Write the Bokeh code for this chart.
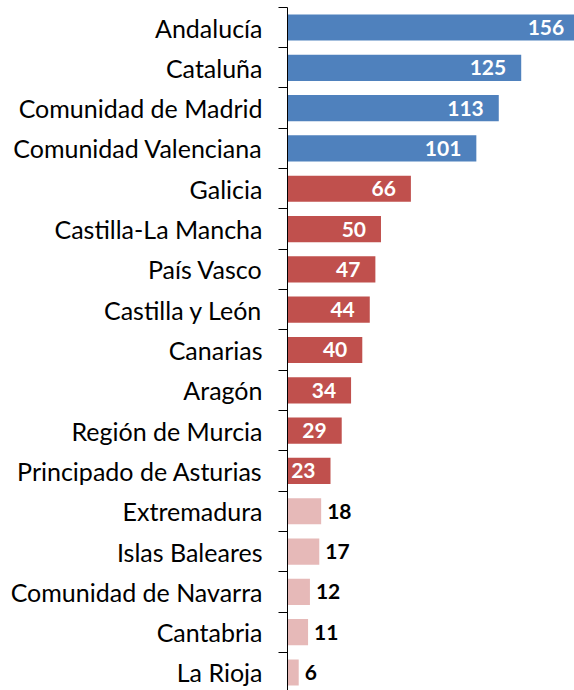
from bokeh.plotting import figure
from bokeh.models import ColumnDataSource, Range1d, FixedTicker, LabelSet
from bokeh.embed import file_html
from bokeh.resources import INLINE
from bokeh.core.properties import value

regions = ["Andalucía", "Cataluña", "Comunidad de Madrid", "Comunidad Valenciana",
           "Galicia", "Castilla-La Mancha", "País Vasco", "Castilla y León",
           "Canarias", "Aragón", "Región de Murcia", "Principado de Asturias",
           "Extremadura", "Islas Baleares", "Comunidad de Navarra", "Cantabria",
           "La Rioja"]
counts = [156, 125, 113, 101, 66, 50, 47, 44, 40, 34, 29, 23, 18, 17, 12, 11, 6]

BLUE, RED, PINK = "#4F81BD", "#C0504D", "#E6B9B8"
FONT = "Lato"

n = len(regions)
ypos = [n - 1 - i + 0.5 for i in range(n)]
colors = [BLUE if c > 100 else (RED if c >= 20 else PINK) for c in counts]
inside = [c >= 20 for c in counts]

src_in = ColumnDataSource(dict(
    y=[y for y, k in zip(ypos, inside) if k],
    x=[c for c, k in zip(counts, inside) if k],
    t=[str(c) for c, k in zip(counts, inside) if k]))
src_out = ColumnDataSource(dict(
    y=[y for y, k in zip(ypos, inside) if not k],
    x=[c for c, k in zip(counts, inside) if not k],
    t=[str(c) for c, k in zip(counts, inside) if not k]))

src = ColumnDataSource(dict(y=ypos, v=counts, color=colors))

p = figure(width=574, height=690, output_backend="svg", toolbar_location=None,
           x_range=Range1d(0, 153.5), y_range=Range1d(0.053, 17.17),
           min_border_left=287, min_border_right=0, min_border_top=0,
           min_border_bottom=0, x_axis_location=None)
p.outline_line_color = None
p.grid.visible = False
p.background_fill_color = "white"

p.hbar(y="y", right="v", left=0, height=0.65, color="color", source=src,
       line_color=None)

p.add_layout(LabelSet(x="x", y="y", text="t", source=src_in, x_offset=-15,
                      text_align="right", text_baseline="middle",
                      text_color="white", text_font=value(FONT),
                      text_font_style="bold", text_font_size="21px"))
p.add_layout(LabelSet(x="x", y="y", text="t", source=src_out, x_offset=6,
                      text_align="left", text_baseline="middle",
                      text_color="black", text_font=value(FONT),
                      text_font_style="bold", text_font_size="21px"))

ax = p.yaxis[0]
ax.bounds = (0, n)
ax.ticker = FixedTicker(ticks=ypos, minor_ticks=list(range(n + 1)))
ax.major_label_overrides = {y: r for y, r in zip(ypos, regions)}
ax.major_tick_out = 0
ax.major_tick_in = 0
ax.minor_tick_out = 9
ax.minor_tick_in = 0
ax.minor_tick_line_color = "black"
ax.axis_line_color = "black"
ax.major_label_standoff = 16
ax.major_label_text_font = FONT
ax.major_label_text_font_size = "25px"
ax.major_label_text_color = "black"

open("out.html", "w").write(file_html(p, INLINE))
